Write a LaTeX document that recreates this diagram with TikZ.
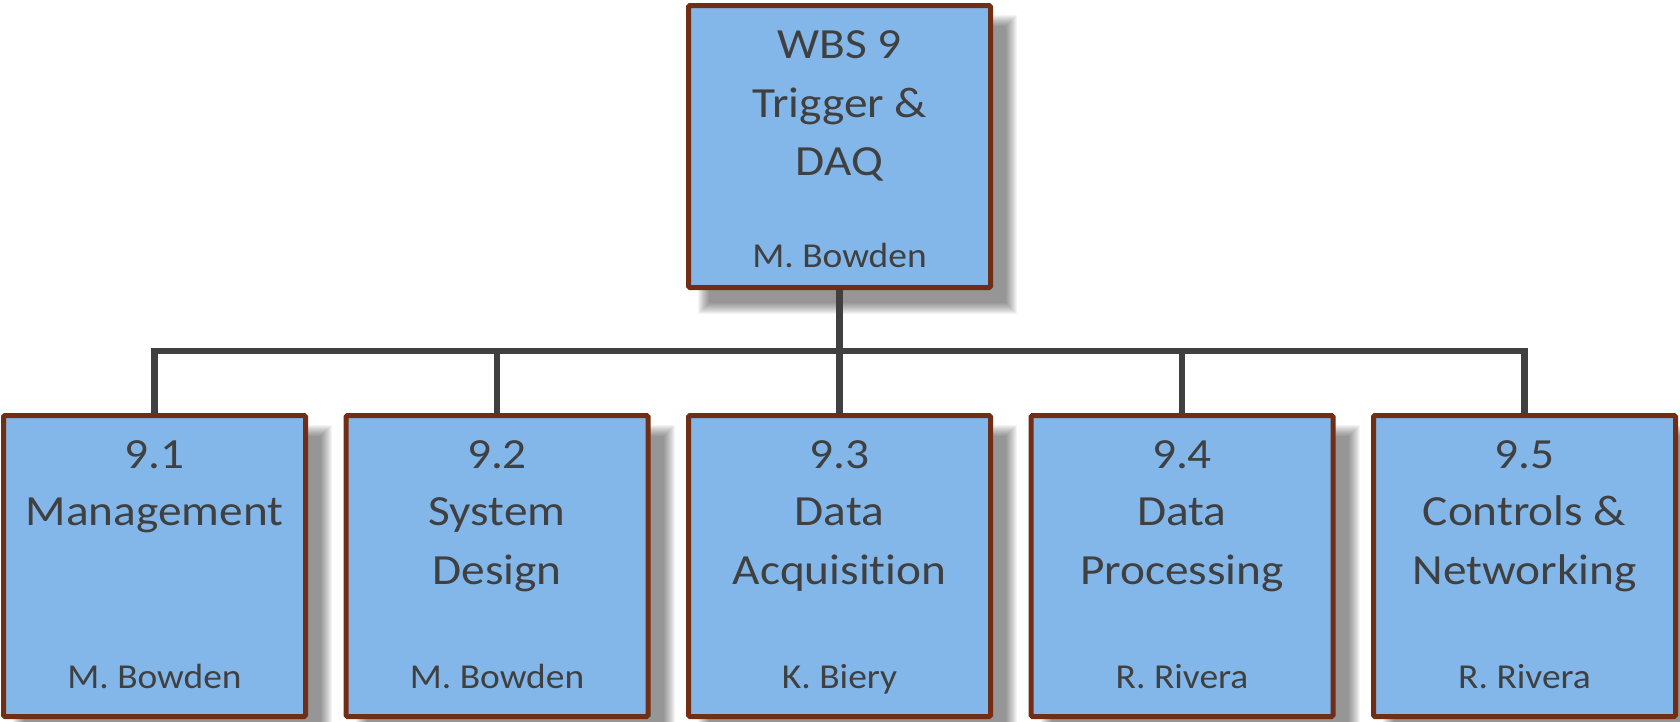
\documentclass[tikz,border=0pt]{standalone}
\usepackage{fontspec}
\setmainfont{Carlito}[Ligatures=NoCommon,RawFeature={-liga;-clig;-calt;-dlig}]
\usetikzlibrary{backgrounds,calc}
\definecolor{boxfill}{HTML}{83B7E9}
\definecolor{boxedge}{HTML}{722E14}
\definecolor{txt}{HTML}{404040}
\definecolor{conncol}{HTML}{404040}
\newcommand\softshadow[1]{%
  \foreach \k in {0,...,11}{%
    \fill[black,opacity=0.045] ($(#1.north west)+(12+\k,12+\k)$) rectangle ($(#1.south east)+(24-\k,24-\k)$);}}
\begin{document}
\begin{tikzpicture}[x=1pt,y=-1pt,
  wbsbox/.style={draw=boxedge, line width=5pt, fill=boxfill, rounded corners=1.5pt, minimum width=302pt, inner sep=0pt},
  topbox/.style={wbsbox, minimum height=282pt},
  subbox/.style={wbsbox, minimum height=301pt},
  ttl/.style={anchor=base, text=txt, font=\fontsize{43}{50}\selectfont, xscale=1.1, inner sep=0pt},
  who/.style={anchor=base, text=txt, font=\fontsize{35}{42}\selectfont, xscale=1.07, inner sep=0pt},
  link/.style={draw=conncol, line width=6.5pt}]
\useasboundingbox (0,0) rectangle (1680,721);

\node[topbox] (top) at (839.5,146.5) {};
\node[subbox] (c1) at (154.5,566) {};
\node[subbox] (c2) at (497,566) {};
\node[subbox] (c3) at (839.5,566) {};
\node[subbox] (c4) at (1182,566) {};
\node[subbox] (c5) at (1524.5,566) {};

\begin{pgfonlayer}{background}
  \softshadow{top}
  \softshadow{c1}
  \softshadow{c2}
  \softshadow{c3}
  \softshadow{c4}
  \softshadow{c5}
\end{pgfonlayer}

% top box text
\node[ttl] (t1) at (839.5,58) {WBS 9};
\node[ttl] (t2) at (839.5,117) {Trigger \&};
\node[ttl] (t3) at (839.5,175) {DAQ};
\node[who] (t4) at (839.5,267) {M. Bowden};

% 9.1
\node[ttl] (a1) at (154.5,468) {9.1};
\node[ttl] (a2) at (154.5,525) {Management};
\node[who] (a3) at (154.5,688) {M. Bowden};
% 9.2
\node[ttl] (b1) at (497,468) {9.2};
\node[ttl] (b2) at (497,525) {System};
\node[ttl] (b3) at (497,584) {Design};
\node[who] (b4) at (497,688) {M. Bowden};
% 9.3
\node[ttl] (d1) at (839.5,468) {9.3};
\node[ttl] (d2) at (839.5,525) {Data};
\node[ttl] (d3) at (839.5,584) {Acquisition};
\node[who] (d4) at (839.5,688) {K. Biery};
% 9.4
\node[ttl] (e1) at (1182,468) {9.4};
\node[ttl] (e2) at (1182,525) {Data};
\node[ttl] (e3) at (1182,584) {Processing};
\node[who] (e4) at (1182,688) {R. Rivera};
% 9.5
\node[ttl] (f1) at (1524.5,468) {9.5};
\node[ttl] (f2) at (1524.5,525) {Controls \&};
\node[ttl] (f3) at (1524.5,584) {Networking};
\node[who] (f4) at (1524.5,688) {R. Rivera};

% connectors
\coordinate (bus) at (839.5,351);
\draw[link] (top.south) -- (c3.north);
\draw[link] (c1.north) -- (c1.north |- bus) -- (c5.north |- bus) -- (c5.north);
\draw[link] (c2.north) -- (c2.north |- bus);
\draw[link] (c4.north) -- (c4.north |- bus);
\end{tikzpicture}
\end{document}
